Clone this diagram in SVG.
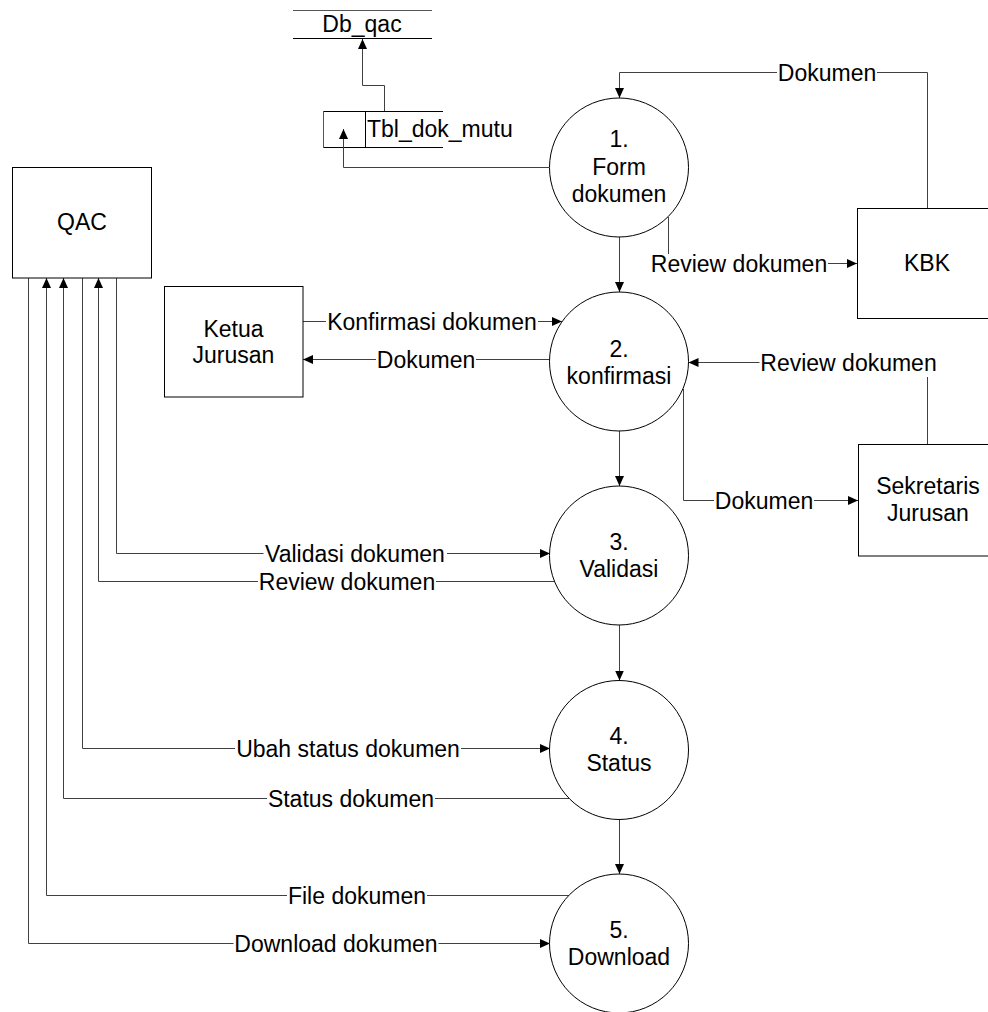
<svg xmlns="http://www.w3.org/2000/svg" width="988" height="1012" viewBox="0 0 988 1012">
  <style>
    text { font-family: "Liberation Sans", Arial, sans-serif; font-size: 23px; fill: #000; }
    .c { text-anchor: middle; }
    .proc { fill: #fff; stroke: #000; stroke-width: 1; }
    .ent { fill: #fff; stroke: #000; stroke-width: 1; }
    .flow { fill: none; stroke: #404040; stroke-width: 1; }
    .arr { marker-end: url(#head); }
    .lbg { fill: #fff; }
    .store { stroke: #000; stroke-width: 1; fill: none; }
    .store-g { stroke: #555; stroke-width: 1; fill: none; }
  </style>
  <defs>
    <marker id="head" markerUnits="userSpaceOnUse" markerWidth="11" markerHeight="9" refX="10" refY="4.5" orient="auto">
      <path d="M0,0 L10,4.5 L0,9 Z" fill="#000"/>
    </marker>
  </defs>
  <rect width="988" height="1012" fill="#fff"/>

  <!-- data stores -->
  <g id="db-qac">
    <line class="store-g" x1="293" y1="10.5" x2="432" y2="10.5"/>
    <line class="store" x1="293" y1="38.5" x2="432" y2="38.5"/>
    <text class="c" x="362" y="32">Db_qac</text>
  </g>
  <g id="tbl-dok-mutu">
    <line class="store" x1="323" y1="111.5" x2="443" y2="111.5"/>
    <line class="store" x1="323" y1="147.5" x2="443" y2="147.5"/>
    <line class="store-g" x1="323.5" y1="111" x2="323.5" y2="148"/>
    <line class="store" x1="365.5" y1="111" x2="365.5" y2="148"/>
    <text x="367" y="137">Tbl_dok_mutu</text>
  </g>

  <!-- data flows -->
  <g id="connectors">
    <!-- store links -->
    <polyline class="flow arr" points="384.5,111 384.5,85.5 362.5,85.5 362.5,39"/>
    <polyline class="flow arr" points="549,167.5 343.5,167.5 343.5,129"/>

    <!-- process chain -->
    <line class="flow arr" x1="619.5" y1="237" x2="619.5" y2="292"/>
    <line class="flow arr" x1="619.5" y1="431" x2="619.5" y2="486"/>
    <line class="flow arr" x1="619.5" y1="625" x2="619.5" y2="680.5"/>
    <line class="flow arr" x1="619.5" y1="819.5" x2="619.5" y2="874"/>

    <!-- KBK -->
    <polyline class="flow arr" points="927.5,208 927.5,72.5 619.5,72.5 619.5,98"/>
    <polyline class="flow arr" points="668.5,217 668.5,263.5 857,263.5"/>

    <!-- Ketua Jurusan -->
    <line class="flow arr" x1="303" y1="321.5" x2="562" y2="321.5"/>
    <line class="flow arr" x1="549.5" y1="359.5" x2="303" y2="359.5"/>

    <!-- Sekretaris Jurusan -->
    <polyline class="flow arr" points="927.5,444 927.5,362.5 688.5,362.5"/>
    <polyline class="flow arr" points="683.5,389 683.5,500.5 858,500.5"/>

    <!-- QAC -->
    <polyline class="flow arr" points="116.5,278 116.5,553.5 550,553.5"/>
    <polyline class="flow arr" points="555,581.5 98.5,581.5 98.5,278"/>
    <polyline class="flow arr" points="82.5,278 82.5,748.5 550,748.5"/>
    <polyline class="flow arr" points="569,798.5 63.5,798.5 63.5,278"/>
    <polyline class="flow arr" points="570,895.5 46.5,895.5 46.5,278"/>
    <polyline class="flow arr" points="28.5,278 28.5,943.5 550,943.5"/>

    <!-- labels -->
    <rect class="lbg" x="777" y="63" width="100" height="19"/>
    <text class="c" x="827" y="80.5">Dokumen</text>
    <rect class="lbg" x="650" y="254" width="178" height="19"/>
    <text class="c" x="739" y="271.5">Review dokumen</text>
    <rect class="lbg" x="326" y="312" width="212" height="19"/>
    <text class="c" x="432" y="329.5">Konfirmasi dokumen</text>
    <rect class="lbg" x="376" y="350" width="100" height="19"/>
    <text class="c" x="426" y="367.5">Dokumen</text>
    <rect class="lbg" x="759.5" y="353" width="178" height="24"/>
    <text class="c" x="848.5" y="370.5">Review dokumen</text>
    <rect class="lbg" x="714" y="491" width="100" height="19"/>
    <text class="c" x="764" y="508.5">Dokumen</text>
    <rect class="lbg" x="263.5" y="544" width="183.5" height="19"/>
    <text class="c" x="355" y="561.5">Validasi dokumen</text>
    <rect class="lbg" x="258" y="572" width="178" height="19"/>
    <text class="c" x="347" y="589.5">Review dokumen</text>
    <rect class="lbg" x="235" y="739" width="226" height="19"/>
    <text class="c" x="348" y="756.5">Ubah status dokumen</text>
    <rect class="lbg" x="267" y="789" width="168" height="19"/>
    <text class="c" x="351" y="806.5">Status dokumen</text>
    <rect class="lbg" x="287" y="886" width="140" height="19"/>
    <text class="c" x="357" y="903.5">File dokumen</text>
    <rect class="lbg" x="233.5" y="934" width="205" height="19"/>
    <text class="c" x="336" y="951.5">Download dokumen</text>
  </g>

  <!-- external entities -->
  <g id="qac">
    <rect class="ent" x="12.5" y="167.5" width="139" height="110.5"/>
    <text class="c" x="82" y="230">QAC</text>
  </g>
  <g id="ketua-jurusan">
    <rect class="ent" x="164.5" y="286.5" width="138.5" height="110.5"/>
    <text class="c" x="233.5" y="337">Ketua</text>
    <text class="c" x="233.5" y="363">Jurusan</text>
  </g>
  <g id="kbk">
    <rect class="ent" x="857.5" y="208.5" width="145" height="110"/>
    <text class="c" x="927" y="271">KBK</text>
  </g>
  <g id="sekretaris-jurusan">
    <rect class="ent" x="858.5" y="444.5" width="145" height="111.5"/>
    <text class="c" x="928" y="494">Sekretaris</text>
    <text class="c" x="928" y="521">Jurusan</text>
  </g>

  <!-- processes -->
  <g id="p1">
    <circle class="proc" cx="619" cy="167.5" r="69.5"/>
    <text class="c" x="619" y="147">1.</text>
    <text class="c" x="619" y="174.5">Form</text>
    <text class="c" x="619" y="202">dokumen</text>
  </g>
  <g id="p2">
    <circle class="proc" cx="619" cy="361.5" r="69.5"/>
    <text class="c" x="619" y="357">2.</text>
    <text class="c" x="619" y="384">konfirmasi</text>
  </g>
  <g id="p3">
    <circle class="proc" cx="619" cy="555.5" r="69.5"/>
    <text class="c" x="619" y="550">3.</text>
    <text class="c" x="619" y="577">Validasi</text>
  </g>
  <g id="p4">
    <circle class="proc" cx="619" cy="750" r="69.5"/>
    <text class="c" x="619" y="744">4.</text>
    <text class="c" x="619" y="771">Status</text>
  </g>
  <g id="p5">
    <circle class="proc" cx="619" cy="943.5" r="69.5"/>
    <text class="c" x="619" y="937.5">5.</text>
    <text class="c" x="619" y="965">Download</text>
  </g>
</svg>
